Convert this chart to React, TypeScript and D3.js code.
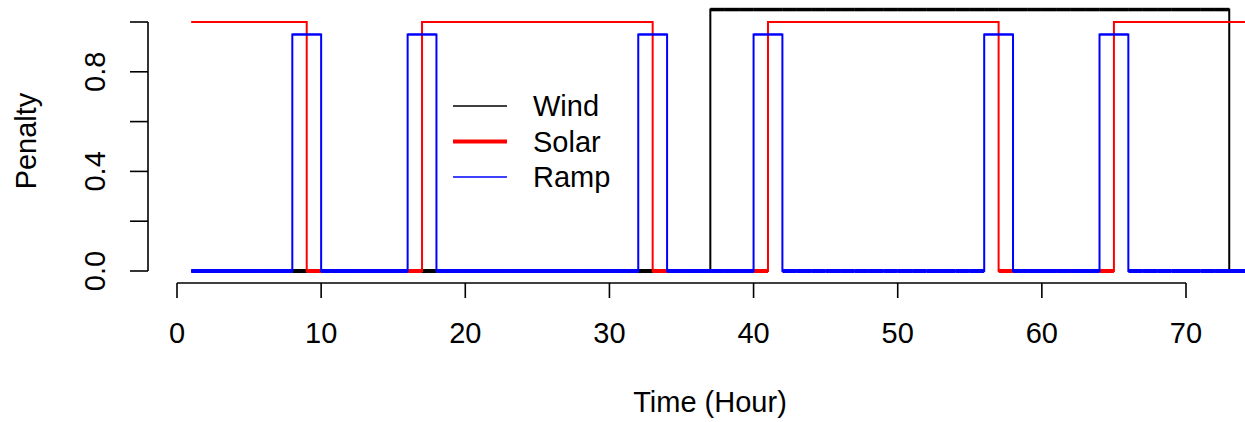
import React from 'react';
import * as d3 from 'd3';

// hourly penalty values (hours 1..75)
const hours = [
  1, 2, 3, 4, 5, 6, 7, 8, 9, 10, 11, 12, 13, 14, 15, 16, 17, 18, 19, 20,
  21, 22, 23, 24, 25, 26, 27, 28, 29, 30, 31, 32, 33, 34, 35, 36, 37, 38, 39, 40,
  41, 42, 43, 44, 45, 46, 47, 48, 49, 50, 51, 52, 53, 54, 55, 56, 57, 58, 59, 60,
  61, 62, 63, 64, 65, 66, 67, 68, 69, 70, 71, 72, 73, 74, 75,
];

const wind = [
  0, 0, 0, 0, 0, 0, 0, 0, 0, 0,
  0, 0, 0, 0, 0, 0, 0, 0, 0, 0,
  0, 0, 0, 0, 0, 0, 0, 0, 0, 0,
  0, 0, 0, 0, 0, 0, 1.05, 1.05, 1.05, 1.05,
  1.05, 1.05, 1.05, 1.05, 1.05, 1.05, 1.05, 1.05, 1.05, 1.05,
  1.05, 1.05, 1.05, 1.05, 1.05, 1.05, 1.05, 1.05, 1.05, 1.05,
  1.05, 1.05, 1.05, 1.05, 1.05, 1.05, 1.05, 1.05, 1.05, 1.05,
  1.05, 1.05, 0, 0, 0,
];

const solar = [
  1, 1, 1, 1, 1, 1, 1, 1, 0, 0,
  0, 0, 0, 0, 0, 0, 1, 1, 1, 1,
  1, 1, 1, 1, 1, 1, 1, 1, 1, 1,
  1, 1, 0, 0, 0, 0, 0, 0, 0, 0,
  1, 1, 1, 1, 1, 1, 1, 1, 1, 1,
  1, 1, 1, 1, 1, 1, 0, 0, 0, 0,
  0, 0, 0, 0, 1, 1, 1, 1, 1, 1,
  1, 1, 1, 1, 1,
];

const ramp = [
  0, 0, 0, 0, 0, 0, 0, 0.95, 0.95, 0,
  0, 0, 0, 0, 0, 0.95, 0.95, 0, 0, 0,
  0, 0, 0, 0, 0, 0, 0, 0, 0, 0,
  0, 0.95, 0.95, 0, 0, 0, 0, 0, 0, 0.95,
  0.95, 0, 0, 0, 0, 0, 0, 0, 0, 0,
  0, 0, 0, 0, 0, 0.95, 0.95, 0, 0, 0,
  0, 0, 0, 0.95, 0.95, 0, 0, 0, 0, 0,
  0, 0, 0, 0, 0,
];

const seriesNames = ['Wind', 'Solar', 'Ramp'];
const xTicks = [0, 10, 20, 30, 40, 50, 60, 70];
const yTicks = [0, 0.2, 0.4, 0.6, 0.8, 1.0];
const yLabels = ['0.0', '0.4', '0.8'];

const W = 1245;
const H = 422;
const FONT = '"Liberation Sans", Arial, Helvetica, sans-serif';
const FS = 29;

const styles = [
  { color: '#000000', top: 3.5, legend: 1.6 },
  { color: '#ff0000', top: 2, legend: 4 },
  { color: '#0000ff', top: 2, legend: 1.6 },
];

const App = () => {
  const x = d3.scaleLinear().domain([0, 70]).range([177, 1186]);
  const y = d3.scaleLinear().domain([0, 1]).range([271, 22]);

  const allSeries = [wind, solar, ramp];

  const line = d3
    .line<[number, number]>()
    .x((d) => x(d[0]))
    .y((d) => y(d[1]))
    .curve(d3.curveStepAfter);

  // horizontal runs, baseline runs get drawn heavier like the original
  const flats = (vals: number[]) =>
    vals.slice(0, -1).map((v, i) => ({ x0: hours[i], x1: hours[i + 1], v }));

  return (
    <svg
      width={W}
      height={H}
      style={{ position: 'absolute', left: 0, top: 0, background: '#fff' }}
      fontFamily={FONT}
    >
      {allSeries.map((vals, k) => (
        <g key={seriesNames[k]}>
          <path
            d={line(vals.map((v, i) => [hours[i], v]) as [number, number][]) || ''}
            fill="none"
            stroke={styles[k].color}
            strokeWidth={2}
          />
          {flats(vals).map((s, i) => (
            <line
              key={i}
              x1={x(s.x0)}
              x2={x(s.x1)}
              y1={y(s.v)}
              y2={y(s.v)}
              stroke={styles[k].color}
              strokeWidth={s.v === 0 ? 4 : styles[k].top}
            />
          ))}
        </g>
      ))}

      {/* x axis */}
      <g stroke="#000" strokeWidth={1.6}>
        <line x1={x(0)} x2={x(70)} y1={283} y2={283} />
        {xTicks.map((t) => (
          <line key={t} x1={x(t)} x2={x(t)} y1={283} y2={298} />
        ))}
      </g>
      {xTicks.map((t) => (
        <text key={t} x={x(t)} y={343} fontSize={FS} textAnchor="middle" fill="#000">
          {t}
        </text>
      ))}
      <text x={710} y={412} fontSize={FS} textAnchor="middle" fill="#000">
        Time (Hour)
      </text>

      {/* y axis */}
      <g stroke="#000" strokeWidth={1.6}>
        <line x1={148} x2={148} y1={y(0)} y2={y(1)} />
        {yTicks.map((t) => (
          <line key={t} x1={130} x2={148} y1={y(t)} y2={y(t)} />
        ))}
      </g>
      {yLabels.map((l) => (
        <text
          key={l}
          transform={`translate(105,${y(+l)}) rotate(-90)`}
          fontSize={FS}
          textAnchor="middle"
          fill="#000"
        >
          {l}
        </text>
      ))}
      <text transform="translate(36,141) rotate(-90)" fontSize={FS} textAnchor="middle" fill="#000">
        Penalty
      </text>

      {/* legend */}
      {seriesNames.map((name, k) => {
        const ly = 106 + k * 35.5;
        return (
          <g key={name}>
            <line x1={453} x2={507} y1={ly} y2={ly} stroke={styles[k].color} strokeWidth={styles[k].legend} />
            <text x={533} y={ly + 10} fontSize={FS} fill="#000">
              {name}
            </text>
          </g>
        );
      })}
    </svg>
  );
};

export default App;
